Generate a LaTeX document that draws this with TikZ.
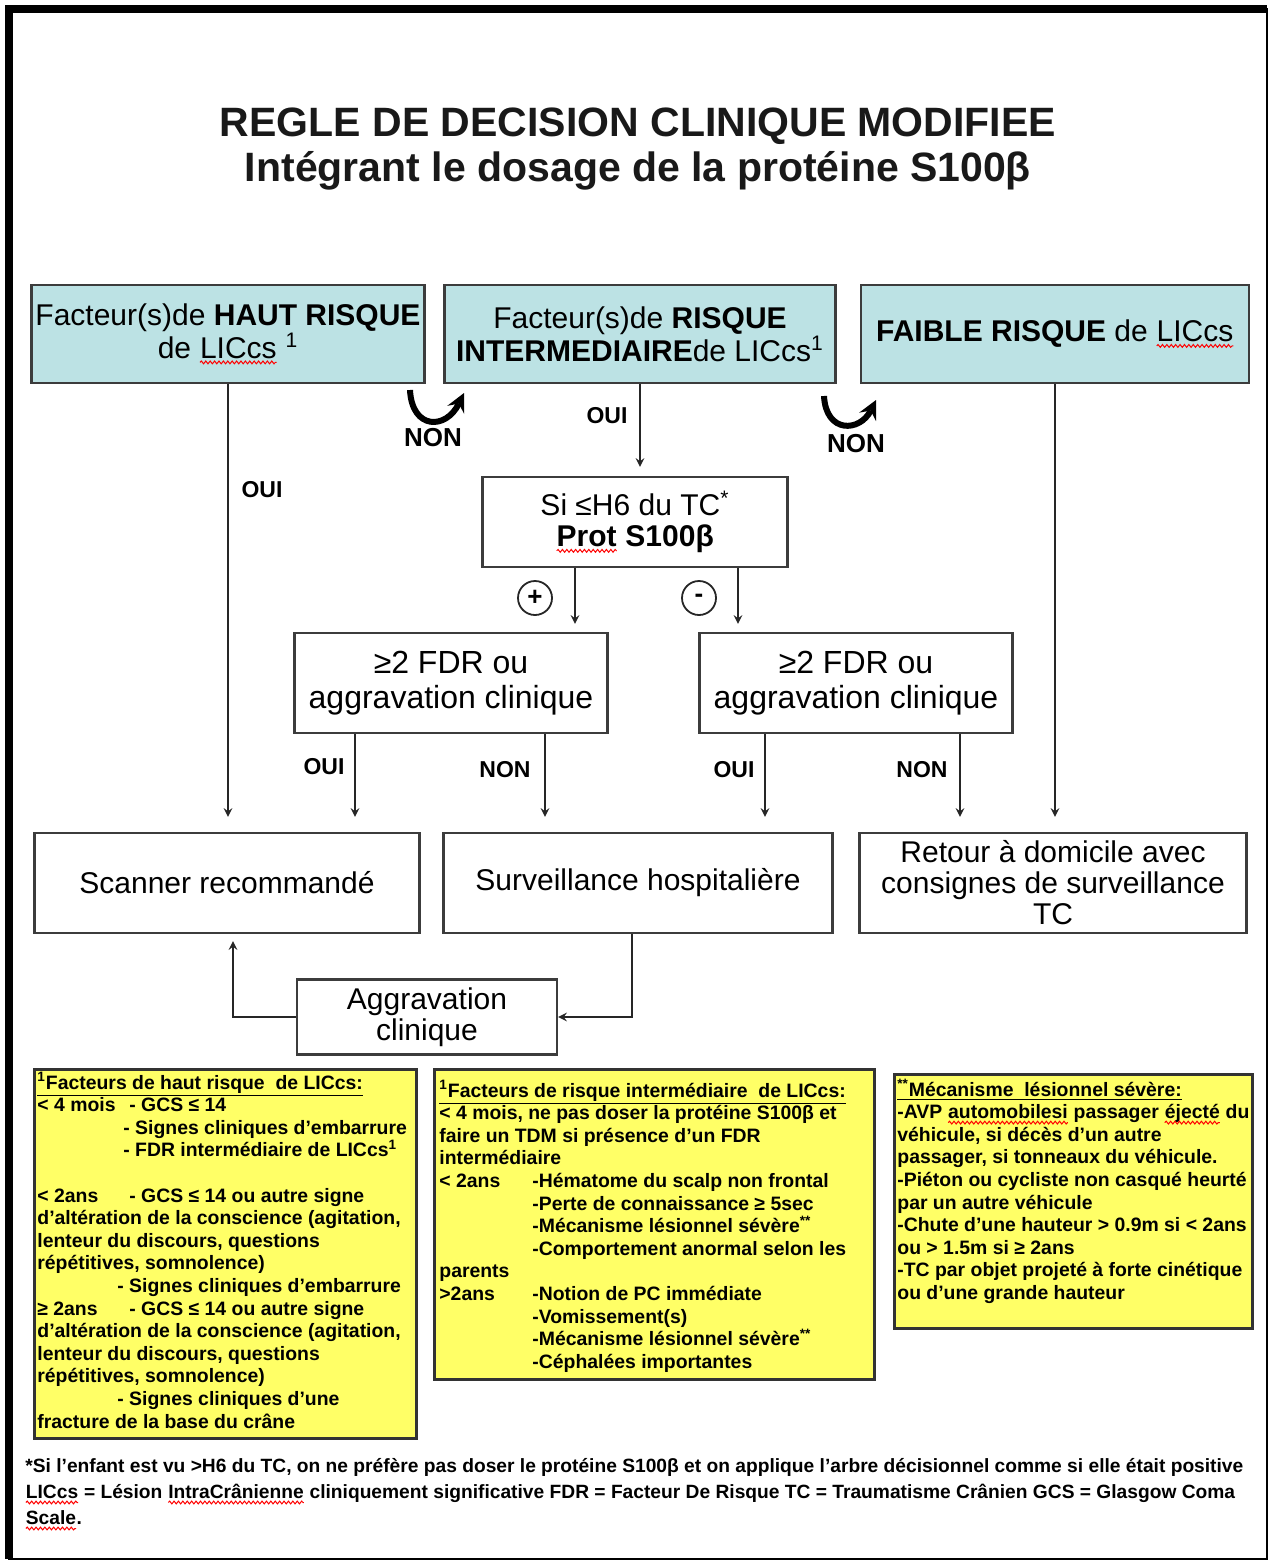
\documentclass[tikz,border=0pt]{standalone}
\usepackage{fontspec}
\setmainfont{Liberation Sans}
\usetikzlibrary{arrows}
\usetikzlibrary{decorations.pathmorphing}

\definecolor{headblue}{RGB}{188,226,228}
\definecolor{noteyellow}{RGB}{255,255,102}
\definecolor{boxline}{RGB}{60,60,60}

% red spell-check wave under a word
\newcommand\spellwave[1]{\tikz[baseline=(sw.base)]{\node[draw=none, fill=none, inner sep=0pt, outer sep=0pt, minimum width=0pt, minimum height=0pt] (sw) {#1};
  \draw[red, line width=0.5pt, decorate, decoration={snake, amplitude=0.7pt, segment length=2.2pt}] ([yshift=-2pt]sw.base west) -- ([yshift=-2pt]sw.base east);}}

\tikzset{
  headbox/.style={draw=boxline, line width=1.2pt, fill=headblue, minimum width=194pt, minimum height=49pt, align=center, inner sep=2pt, font=\fontsize{15}{16.5}\selectfont},
  stepbox/.style={draw=boxline, line width=1.2pt, fill=white, align=center, inner sep=2pt, font=\fontsize{15}{15.5}\selectfont},
  notebox/.style={draw=black!80, line width=1.4pt, fill=noteyellow, inner sep=0pt, anchor=north west},
  notetext/.style={anchor=north west, align=left, inner sep=0pt, font=\fontsize{9.7}{11.3}\selectfont\bfseries},
  arr/.style={line width=0.9pt, -stealth, draw=black!85},
  answer/.style={font=\fontsize{11.5}{13}\selectfont\bfseries},
  sign/.style={circle, draw=black!85, line width=0.9pt, minimum size=17pt, inner sep=0pt, font=\fontsize{13}{13}\selectfont\bfseries},
  loopback/.style={line width=3pt, -stealth},
}

\begin{document}
\begin{tikzpicture}[x=0.5pt, y=-0.5pt]
\useasboundingbox (0,0) rectangle (1275,1563);

% frame
\draw[line width=1pt] (9,9) rectangle (1267,1559);
\draw[line width=4pt] (9,1559) -- (9,9) -- (1267,9);

% title
\node[font=\fontsize{20.5}{24}\selectfont\bfseries, text=black!90] (title) at (638,126) {REGLE DE DECISION CLINIQUE MODIFIEE};
\node[font=\fontsize{20.5}{24}\selectfont\bfseries, text=black!90] (subtitle) at (638,171) {Intégrant le dosage de la protéine S100β};

% risk levels
\node[headbox] (hr) at (228,334) {Facteur(s)de \textbf{HAUT RISQUE}\\de \spellwave{LICcs} \textsuperscript{1}};
\node[headbox, minimum width=195.5pt] (ir) at (640,334) {Facteur(s)de \textbf{RISQUE}\\\textbf{INTERMEDIAIRE}de LICcs\textsuperscript{1}};
\node[headbox] (fr) at (1055,334) {\textbf{FAIBLE RISQUE} de \spellwave{LICcs}};

\node[stepbox, minimum width=152.5pt, minimum height=45pt] (prot) at (635,522) {Si ≤H6 du TC\textsuperscript{*}\\\textbf{\spellwave{Prot} S100β}};

\node[stepbox, minimum width=156.5pt, minimum height=50pt, font=\fontsize{16}{17.5}\selectfont] (fdrp) at (451,683) {≥2 FDR ou\\aggravation clinique};
\node[stepbox, minimum width=156.5pt, minimum height=50pt, font=\fontsize{16}{17.5}\selectfont] (fdrm) at (856,683) {≥2 FDR ou\\aggravation clinique};

% outcomes
\node[stepbox, minimum width=192.5pt, minimum height=50pt] (scan) at (227,883) {Scanner recommandé};
\node[stepbox, minimum width=194.5pt, minimum height=50pt] (surv) at (638,883) {Surveillance hospitalière};
\node[stepbox, minimum width=193.5pt, minimum height=50pt] (retour) at (1053,883) {Retour à domicile avec\\consignes de surveillance\\TC};
\node[stepbox, minimum width=130pt, minimum height=37.5pt] (aggr) at (427,1017) {Aggravation\\clinique};

% arrows
\draw[arr, shorten >=7.5pt] (hr.south) -- (hr.south |- scan.north);
\draw[arr, shorten >=4.5pt] (ir.south) -- (ir.south |- prot.north);
\draw[arr, shorten >=7.5pt] (fr.south) -- (fr.south |- retour.north);

\coordinate (protplus) at ([xshift=-30pt]prot.south);
\coordinate (protminus) at ([xshift=51.5pt]prot.south);
\draw[arr, shorten >=4pt] (protplus) -- (protplus |- fdrp.north);
\draw[arr, shorten >=4pt] (protminus) -- (protminus |- fdrm.north);

\coordinate (fdrpoui) at ([xshift=-48pt]fdrp.south);
\coordinate (fdrpnon) at ([xshift=47pt]fdrp.south);
\coordinate (fdrmoui) at ([xshift=-45.5pt]fdrm.south);
\coordinate (fdrmnon) at ([xshift=52pt]fdrm.south);
\draw[arr, shorten >=7.5pt] (fdrpoui) -- (fdrpoui |- scan.north);
\draw[arr, shorten >=7.5pt] (fdrpnon) -- (fdrpnon |- surv.north);
\draw[arr, shorten >=7.5pt] (fdrmoui) -- (fdrmoui |- surv.north);
\draw[arr, shorten >=7.5pt] (fdrmnon) -- (fdrmnon |- retour.north);

\draw[arr] ([xshift=-3pt]surv.south) |- (aggr.east);
\draw[arr, shorten >=3.5pt] (aggr.west) -| ([xshift=3pt]scan.south);

% NON loops
\coordinate (loopa) at (410,390);
\coordinate (loopb) at (824,396);
\draw[loopback] (loopa) .. controls (412,430) and (446,430) .. (464,393);
\draw[loopback] (loopb) .. controls (826,434) and (860,432) .. (876,400);
\node[font=\fontsize{13}{13}\selectfont\bfseries] (nona) at (433,438) {NON};
\node[font=\fontsize{13}{13}\selectfont\bfseries] (nonb) at (856,444) {NON};

% answers
\node[answer] (ouihr) at (262,490) {OUI};
\node[answer] (ouiir) at (607,416) {OUI};
\node[answer] (ouip) at (324,767) {OUI};
\node[answer] (nonp) at (505,770) {NON};
\node[answer] (ouim) at (734,770) {OUI};
\node[answer] (nonm) at (922,770) {NON};
\node[sign] (plus) at (535,598) {+};
\node[sign] (minus) at (699,598) {-};

% notes
\node[notebox, minimum width=191pt, minimum height=184.5pt] (nhigh) at (33,1068) {};
\node[notetext] (thigh) at ([shift={(2pt,-2pt)}]nhigh.north west) {%
\underline{\textsuperscript{1}Facteurs de haut risque\ \ de LICcs:}\\
\makebox[46pt][l]{< 4 mois}- GCS ≤ 14\\
\hspace*{43pt}- Signes cliniques d'embarrure\\
\hspace*{43pt}- FDR intermédiaire de LICcs\textsuperscript{1}\\[11.3pt]
\makebox[46pt][l]{< 2ans}- GCS ≤ 14 ou autre signe\\
d'altération de la conscience (agitation,\\
lenteur du discours, questions\\
répétitives, somnolence)\\
\hspace*{40pt}- Signes cliniques d'embarrure\\
\makebox[46pt][l]{≥ 2ans}- GCS ≤ 14 ou autre signe\\
d'altération de la conscience (agitation,\\
lenteur du discours, questions\\
répétitives, somnolence)\\
\hspace*{40pt}- Signes cliniques d'une\\
fracture de la base du crâne};

\node[notebox, minimum width=220pt, minimum height=155pt] (nmid) at (433,1068) {};
\node[notetext] (tmid) at ([shift={(3pt,-6pt)}]nmid.north west) {%
\underline{\textsuperscript{1}Facteurs de risque intermédiaire\ \ de LICcs:}\\
< 4 mois, ne pas doser la protéine S100β et\\
faire un TDM si présence d'un FDR\\
intermédiaire\\
\makebox[46.5pt][l]{< 2ans}-Hématome du scalp non frontal\\
\hspace*{46.5pt}-Perte de connaissance ≥ 5sec\\
\hspace*{46.5pt}-Mécanisme lésionnel sévère\textsuperscript{**}\\
\hspace*{46.5pt}-Comportement anormal selon les\\
parents\\
\makebox[46.5pt][l]{>2ans}-Notion de PC immédiate\\
\hspace*{46.5pt}-Vomissement(s)\\
\hspace*{46.5pt}-Mécanisme lésionnel sévère\textsuperscript{**}\\
\hspace*{46.5pt}-Céphalées importantes};

\node[notebox, minimum width=179pt, minimum height=127pt] (nsev) at (893,1073) {};
\node[notetext] (tsev) at ([shift={(2pt,-3pt)}]nsev.north west) {%
\underline{\textsuperscript{**}Mécanisme\ \ lésionnel sévère:}\\
-AVP \spellwave{automobilesi} passager \spellwave{éjecté} du\\
véhicule, si décès d'un autre\\
passager, si tonneaux du véhicule.\\
-Piéton ou cycliste non casqué heurté\\
par un autre véhicule\\
-Chute d'une hauteur > 0.9m si < 2ans\\
ou > 1.5m si ≥ 2ans\\
-TC par objet projeté à forte cinétique\\
ou d'une grande hauteur};

% footnote
\node[anchor=north west, align=left, inner sep=0pt, font=\fontsize{9.6}{13}\selectfont\bfseries] (foot) at (25,1458) {%
*Si l'enfant est vu >H6 du TC, on ne préfère pas doser le protéine S100β et on applique l'arbre décisionnel comme si elle était positive\\
\spellwave{LICcs} = Lésion \spellwave{IntraCrânienne} cliniquement significative FDR = Facteur De Risque TC = Traumatisme Crânien GCS = Glasgow Coma\\
\spellwave{Scale}.};
\end{tikzpicture}
\end{document}
